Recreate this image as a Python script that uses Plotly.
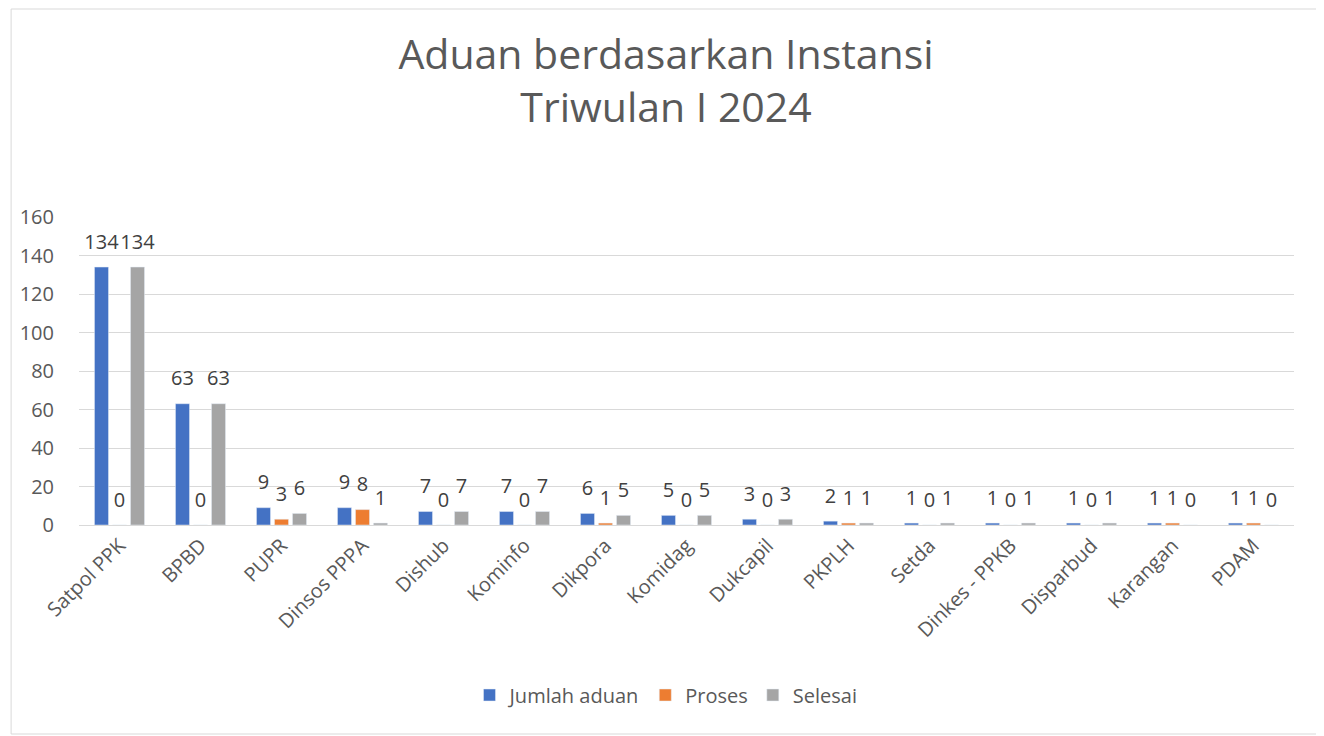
import plotly.graph_objects as go

categories = ["Satpol PPK", "BPBD", "PUPR", "Dinsos PPPA", "Dishub", "Kominfo", "Dikpora",
              "Komidag", "Dukcapil", "PKPLH", "Setda", "Dinkes - PPKB", "Disparbud", "Karangan", "PDAM"]
jumlah = [134, 63, 9, 9, 7, 7, 6, 5, 3, 2, 1, 1, 1, 1, 1]
proses = [0, 0, 3, 8, 0, 0, 1, 0, 0, 1, 0, 0, 0, 1, 1]
selesai = [134, 63, 6, 1, 7, 7, 5, 5, 3, 1, 1, 1, 1, 0, 0]

series = [("Jumlah aduan", jumlah, "#4472C4"),
          ("Proses", proses, "#ED7D31"),
          ("Selesai", selesai, "#A5A5A5")]

FONT = "Open Sans"
GREY = "#595959"
GAP = 0.333

fig = go.Figure()
for name, vals, color in series:
    fig.add_trace(go.Bar(
        name=name, x=categories, y=vals, marker_color=color,
        offsetgroup=name, hoverinfo="skip",
    ))
for name, vals, color in series:
    fig.add_trace(go.Scatter(
        x=categories, y=vals, mode="markers+text", text=[str(v) for v in vals],
        textposition="top center", offsetgroup=name, showlegend=False,
        marker=dict(size=20, color="rgba(0,0,0,0)"),
        textfont=dict(family=FONT, size=20, color="#404040"),
        cliponaxis=False, hoverinfo="skip",
    ))

fig.update_layout(
    width=1316, height=728,
    paper_bgcolor="white", plot_bgcolor="white",
    margin=dict(l=69, r=30, t=209, b=211),
    barmode="group", bargap=GAP, bargroupgap=0.22,
    scattermode="group", scattergap=GAP,
    title=dict(text="Aduan berdasarkan Instansi<br>Triwulan I 2024",
               x=0.5, xref="container", xanchor="center",
               y=0.9165, yref="container", yanchor="middle",
               font=dict(family=FONT, size=41, color=GREY)),
    font=dict(family=FONT, color=GREY),
    legend=dict(orientation="h", x=0.5, xref="container", xanchor="center",
                y=0.0563, yref="container", yanchor="middle",
                font=dict(family=FONT, size=20, color=GREY), itemwidth=30,
                traceorder="normal"),
)
fig.update_yaxes(range=[0, 160], dtick=20, showgrid=True, gridcolor="#D9D9D9", gridwidth=1.3,
                 zeroline=True, zerolinecolor="#D9D9D9", zerolinewidth=1.3,
                 tickfont=dict(family=FONT, size=20, color=GREY), ticks="", ticklen=0,
                 ticklabelstandoff=24)
fig.update_xaxes(tickangle=-45, tickfont=dict(family=FONT, size=20, color=GREY),
                 showline=True, linecolor="#D9D9D9", ticks="")
fig.add_shape(type="rect", xref="paper", yref="paper",
              x0=-68/1217, x1=(1217+26)/1217, y0=-209/308, y1=(308+208)/308,
              line=dict(color="#D9D9D9", width=1), fillcolor="rgba(0,0,0,0)")

fig.write_html("out.html")
